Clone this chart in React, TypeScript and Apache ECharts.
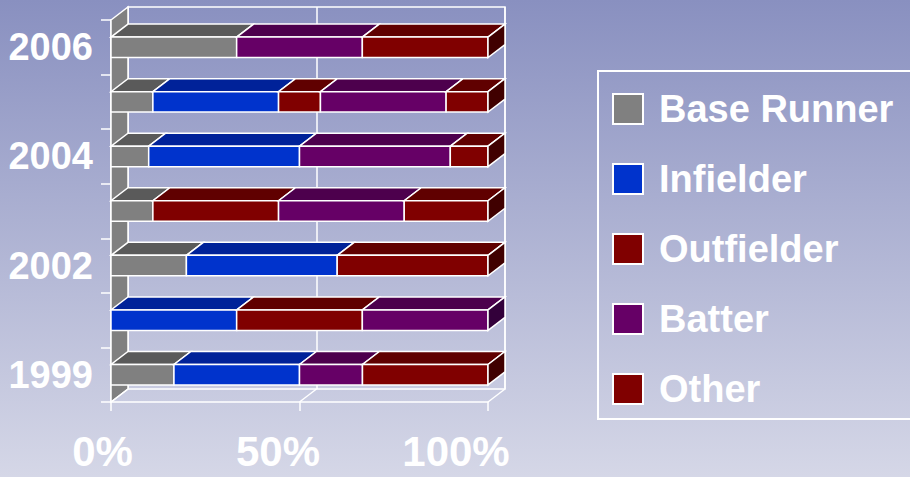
import React, { useEffect, useRef } from "react";
import * as echarts from "echarts";

const categories = ["1999", "2000", "2002", "2003", "2004", "2005", "2006"];
const seriesNames = ["Base Runner", "Infielder", "Outfielder", "Batter", "Other"];
const baseRunner = [16.7, 0, 20, 11.1, 10, 11.1, 33.3];
const infielder = [33.3, 33.3, 40, 0, 40, 33.3, 0];
const outfielder = [0, 33.3, 40, 33.3, 0, 11.1, 0];
const batter = [16.7, 33.3, 0, 33.3, 40, 33.3, 33.3];
const other = [33.3, 0, 0, 22.2, 10, 11.1, 33.3];
const xTicks = [0, 50, 100];

const FRONT = ["#808080", "#0033cc", "#800000", "#660066", "#800000"];
const TOP = ["#5a5a5a", "#002299", "#600000", "#4d004d", "#600000"];
const SIDE = ["#404040", "#001a77", "#400000", "#33003a", "#400000"];
const DX = 17;
const DY = 13;
const FONT = "'Liberation Sans', Arial, sans-serif";

export default function App() {
  const ref = useRef<HTMLDivElement>(null);
  useEffect(() => {
    if (!ref.current) return;
    const chart = echarts.init(ref.current, undefined, { renderer: "svg" });
    const all = [baseRunner, infielder, outfielder, batter, other];
    const totals = categories.map((_, i) => all.reduce((s, a) => s + a[i], 0));
    const stacked = all.map((arr, k) =>
      categories.map((_, i) => {
        let start = 0;
        for (let j = 0; j < k; j++) start += all[j][i];
        const s = (start / totals[i]) * 100;
        const e = ((start + arr[i]) / totals[i]) * 100;
        return [s, e, i];
      })
    );

    const barSeries = stacked.map((data, k) => ({
      type: "custom",
      name: seriesNames[k],
      xAxisIndex: 0,
      yAxisIndex: 0,
      z: 3,
      itemStyle: { color: FRONT[k] },
      encode: { x: [0, 1], y: 2 },
      data,
      renderItem: (params: any, api: any) => {
        const s = api.value(0);
        const e = api.value(1);
        const idx = api.value(2);
        if (e - s <= 0.01) return null;
        const p0 = api.coord([s, idx]);
        const p1 = api.coord([e, idx]);
        const band = api.size([0, 1])[1];
        const h = band * 0.375;
        const yTop = p0[1] - h / 2;
        const yBot = p0[1] + h / 2;
        const x0 = p0[0];
        const x1 = p1[0];
        const children: any[] = [
          {
            type: "polygon",
            shape: {
              points: [
                [x0, yTop],
                [x1, yTop],
                [x1 + DX, yTop - DY],
                [x0 + DX, yTop - DY],
              ],
            },
            style: { fill: TOP[k], stroke: "#ffffff", lineWidth: 1.5 },
          },
          {
            type: "rect",
            shape: { x: x0, y: yTop, width: x1 - x0, height: h },
            style: { fill: FRONT[k], stroke: "#ffffff", lineWidth: 1.5 },
          },
        ];
        if (e >= 99.9) {
          children.push({
            type: "polygon",
            shape: {
              points: [
                [x1, yTop],
                [x1 + DX, yTop - DY],
                [x1 + DX, yBot - DY],
                [x1, yBot],
              ],
            },
            style: { fill: SIDE[k], stroke: "#ffffff", lineWidth: 1.5 },
          });
        }
        return { type: "group", children };
      },
    }));

    const frameSeries = {
      type: "custom",
      name: "frame",
      xAxisIndex: 0,
      yAxisIndex: 0,
      z: 1,
      silent: true,
      data: [[0, 0]],
      renderItem: (params: any, api: any) => {
        const cs = params.coordSys;
        const x = cs.x;
        const y = cs.y;
        const h = cs.height;
        const children: any[] = [
          {
            type: "polygon",
            shape: {
              points: [
                [x, y],
                [x + DX, y - DY],
                [x + DX, y + h - DY],
                [x, y + h],
              ],
            },
            style: { fill: "#808080", stroke: "#ffffff", lineWidth: 1.5 },
          },
        ];
        xTicks.forEach((v) => {
          const px = api.coord([v, 0])[0];
          children.push({
            type: "line",
            shape: { x1: px, y1: y + h, x2: px + DX, y2: y + h - DY },
            style: { stroke: "#ffffff", lineWidth: 1.5 },
          });
        });
        return { type: "group", children };
      },
    };

    const labelPad: Record<number, string> = { 0: "a", 50: "b", 100: "c" };
    const richBase = { fontSize: 42, fontWeight: "bold", color: "#ffffff", fontFamily: FONT };

    chart.setOption({
      animation: false,
      backgroundColor: {
        type: "linear",
        x: 0,
        y: 0,
        x2: 0,
        y2: 1,
        colorStops: [
          { offset: 0, color: "#8990c0" },
          { offset: 1, color: "#d5d7e7" },
        ],
      },
      textStyle: { fontFamily: FONT },
      grid: [
        { left: 111, top: 20, width: 377, height: 382 },
        {
          left: 128,
          top: 7,
          width: 377,
          height: 382,
          show: true,
          borderColor: "#ffffff",
          borderWidth: 1.5,
          backgroundColor: "transparent",
        },
      ],
      xAxis: [
        {
          type: "value",
          gridIndex: 0,
          min: 0,
          max: 100,
          interval: 50,
          axisLine: { show: true, lineStyle: { color: "#ffffff", width: 1.5 } },
          axisTick: { show: true, length: 9, lineStyle: { color: "#ffffff", width: 1.5 } },
          splitLine: { show: false },
          axisLabel: {
            margin: 28,
            formatter: (v: number) => `{${labelPad[v] || "a"}|${v}%}`,
            rich: {
              a: { ...richBase, padding: [0, 17, 0, 0] },
              b: { ...richBase, padding: [0, 43, 0, 0] },
              c: { ...richBase, padding: [0, 64, 0, 0] },
            },
          },
        },
        {
          type: "value",
          gridIndex: 1,
          min: 0,
          max: 100,
          interval: 50,
          axisLine: { show: false },
          axisTick: { show: false },
          axisLabel: { show: false },
          splitLine: { show: true, lineStyle: { color: "#ffffff", width: 1.5 } },
        },
      ],
      yAxis: [
        {
          type: "category",
          gridIndex: 0,
          data: categories,
          axisLine: { show: true, lineStyle: { color: "#ffffff", width: 1.5 } },
          axisTick: { show: true, length: 10, interval: 0, lineStyle: { color: "#ffffff", width: 1.5 } },
          axisLabel: {
            interval: 1,
            margin: 18,
            color: "#ffffff",
            fontSize: 38,
            fontWeight: "bold",
            fontFamily: FONT,
          },
        },
        {
          type: "category",
          gridIndex: 1,
          data: categories,
          show: false,
        },
      ],
      legend: {
        orient: "vertical",
        left: 598,
        top: 71,
        padding: [18, 40, 10, 14],
        borderColor: "#ffffff",
        borderWidth: 2,
        itemWidth: 30,
        itemHeight: 30,
        itemGap: 30,
        selectedMode: false,
        itemStyle: { borderColor: "#ffffff", borderWidth: 2 },
        textStyle: {
          color: "#ffffff",
          fontSize: 38,
          fontWeight: "bold",
          fontFamily: FONT,
          lineHeight: 40,
          padding: [0, 0, 0, 11],
        },
        data: seriesNames.map((n) => ({ name: n, icon: "rect" })),
      },
      series: [frameSeries, ...barSeries],
    });
    return () => chart.dispose();
  }, []);
  return (
    <div
      ref={ref}
      style={{ position: "fixed", left: 0, top: 0, width: 910, height: 477 }}
    />
  );
}
